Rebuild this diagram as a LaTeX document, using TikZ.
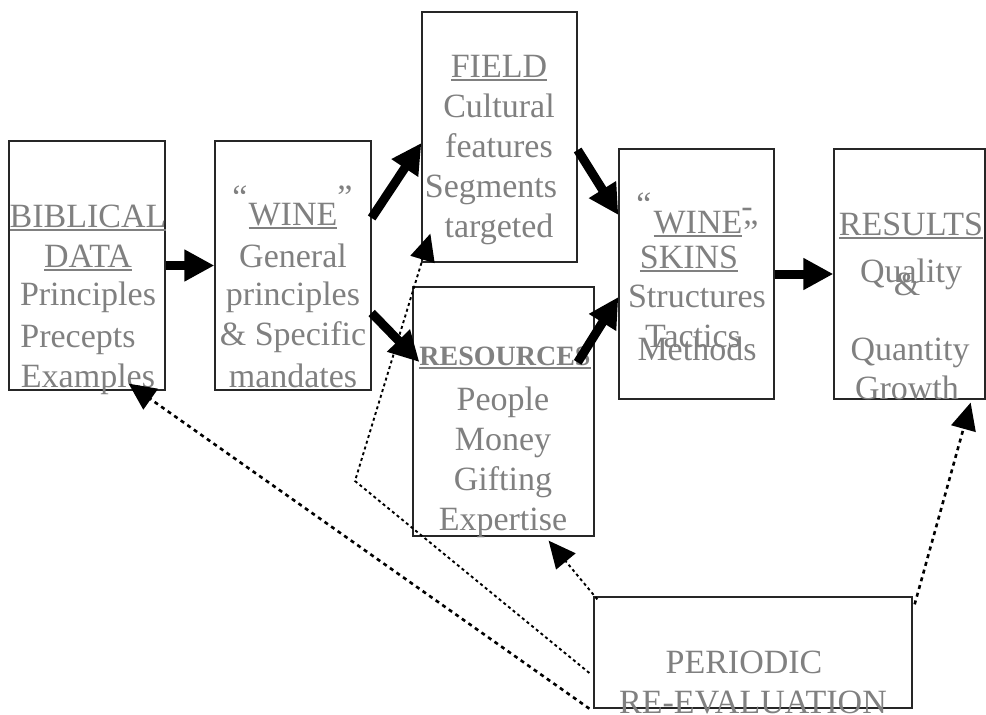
\documentclass[tikz,border=0pt]{standalone}
\usepackage{fontspec}
\setmainfont{Liberation Serif}
\usetikzlibrary{arrows.meta}
\definecolor{txtgray}{HTML}{808080}
\newcommand{\myul}[1]{\setbox0=\hbox{#1}\rlap{\rule[-4pt]{\wd0}{1.6pt}}\box0}
\begin{document}
\begin{tikzpicture}[x=1pt,y=-1pt,
  box/.style={draw=black!85,line width=1.3pt,inner sep=0pt},
  txt/.style={anchor=base,inner sep=0pt,text=txtgray,font=\fontsize{34}{40}\selectfont},
  thickarr/.style={line width=9pt,-{Triangle[length=30pt,width=30pt]}},
  dotarr/.style={line width=2.6pt,dash pattern=on 4pt off 4pt,-{Triangle[length=27pt,width=25pt]}},
  thinarr/.style={line width=1.9pt,dash pattern=on 3pt off 3pt,-{Triangle[length=27pt,width=25pt]}}]
\useasboundingbox (0,0) rectangle (986,715);
% boxes
\node[box,minimum width=156pt,minimum height=249pt] (bib) at (87,265.5) {};
\node[box,minimum width=156pt,minimum height=249pt] (wine) at (293,265.5) {};
\node[box,minimum width=155pt,minimum height=250pt] (field) at (499.5,137) {};
\node[box,minimum width=155pt,minimum height=250pt] (skins) at (696.5,274) {};
\node[box,minimum width=151pt,minimum height=250pt] (results) at (909.5,274) {};
\node[box,minimum width=181pt,minimum height=249pt] (res) at (503.5,411.5) {};
\node[box,minimum width=318pt,minimum height=111pt] (per) at (753,652.5) {};
% biblical data
\node[txt] (b1) at (88,227) {\myul{BIBLICAL}};
\node[txt] (b2) at (88,267) {\myul{DATA}};
\node[txt] (b3) at (88,305) {Principles};
\node[txt] (b4) at (78,347) {Precepts};
\node[txt] (b5) at (88,387) {Examples};
% wine
\node[txt] (w0) at (240,208) {“};
\node[txt] (w0b) at (345,208) {”};
\node[txt] (w1) at (293,225) {\myul{WINE}};
\node[txt] (w2) at (293,267) {General};
\node[txt] (w3) at (293,305) {principles};
\node[txt] (w4) at (293,345) {\&~Specific};
\node[txt] (w5) at (293,387) {mandates};
% field
\node[txt] (f1) at (499,77) {\myul{FIELD}};
\node[txt] (f2) at (499,117) {Cultural};
\node[txt] (f3) at (499,157) {features};
\node[txt] (f4) at (491,197) {Segments};
\node[txt] (f5) at (499,237) {targeted};
% wineskins
\node[txt] (s0) at (644,215) {“};
\node[txt] (s1) at (698,233) {\myul{WINE}};
\node[txt] (s2) at (747,217) {-};
\node[txt] (s3) at (751,243) {”};
\node[txt] (s4) at (689,268) {\myul{SKINS}};
\node[txt] (s5) at (697,307) {Structures};
\node[txt] (s6) at (693,347) {Tactics};
\node[txt] (s7) at (697,360) {Methods};
% results
\node[txt] (r1) at (911,235) {\myul{RESULTS}};
\node[txt] (r2) at (911,282) {Quality};
\node[txt] (r3) at (907,295) {\&};
\node[txt] (r4) at (910,360) {Quantity};
\node[txt] (r5) at (907,399) {Growth};
% resources
\node[txt,font=\fontsize{28}{34}\bfseries] (q1) at (505,365) {\myul{RESOURCES}};
\node[txt] (q2) at (503,410) {People};
\node[txt] (q3) at (503,450) {Money};
\node[txt] (q4) at (503,490) {Gifting};
\node[txt] (q5) at (503,530) {Expertise};
% periodic
\node[txt] (p1) at (744,673) {PERIODIC};
\node[txt] (p2) at (753,713) {RE-EVALUATION};
% thick arrows
\draw[thickarr] (bib.east) -- (wine.west);
\draw[thickarr] ([yshift=47.5pt]wine.east) -- ([yshift=-6pt]field.west);
\draw[thickarr] ([yshift=-47.5pt]wine.east) -- ([xshift=7pt,yshift=49.5pt]res.west);
\draw[thickarr] ([yshift=-13pt]field.east) -- ([yshift=59pt]skins.west);
\draw[thickarr] ([xshift=-17pt,yshift=-76pt]res.north east) -- ([yshift=-23pt]skins.west);
\draw[thickarr] (skins.east) -- (results.west);
% dotted arrows
\coordinate (bend) at (355,481);
\draw[dotarr] ([xshift=-4pt]per.south west) -- ([xshift=-37pt,yshift=7pt]bib.south east);
\draw[thinarr] ([xshift=-4pt,yshift=-20.5pt]per.west) -- (bend) -- ([xshift=9pt,yshift=29pt]field.south west);
\draw[thinarr] ([xshift=4pt,yshift=-3pt]per.north west) -- ([xshift=-46pt,yshift=-4pt]res.south east);
\draw[dotarr] ([xshift=2pt,yshift=-8pt]per.north east) -- ([xshift=-15pt,yshift=-3pt]results.south east);
\end{tikzpicture}
\end{document}
